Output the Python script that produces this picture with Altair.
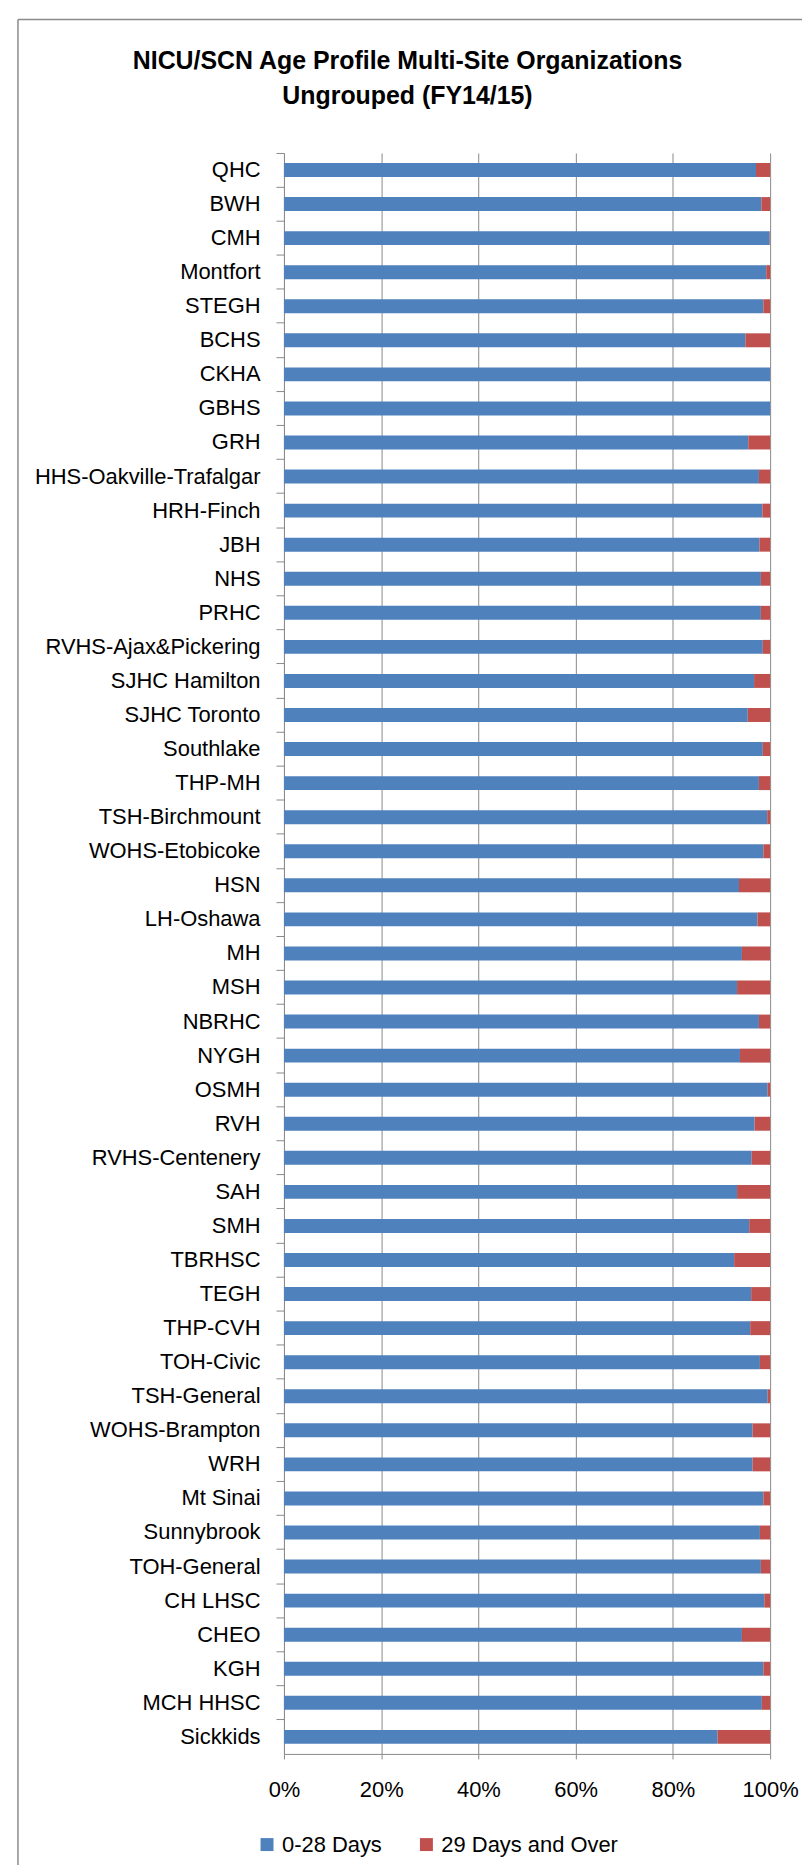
import altair as alt
import pandas as pd

sites = [
    "QHC", "BWH", "CMH", "Montfort", "STEGH", "BCHS", "CKHA", "GBHS", "GRH",
    "HHS-Oakville-Trafalgar", "HRH-Finch", "JBH", "NHS", "PRHC",
    "RVHS-Ajax&Pickering", "SJHC Hamilton", "SJHC Toronto", "Southlake",
    "THP-MH", "TSH-Birchmount", "WOHS-Etobicoke", "HSN", "LH-Oshawa", "MH",
    "MSH", "NBRHC", "NYGH", "OSMH", "RVH", "RVHS-Centenery", "SAH", "SMH",
    "TBRHSC", "TEGH", "THP-CVH", "TOH-Civic", "TSH-General", "WOHS-Brampton",
    "WRH", "Mt Sinai", "Sunnybrook", "TOH-General", "CH LHSC", "CHEO", "KGH",
    "MCH HHSC", "Sickkids",
]
days_0_28 = [
    97.1, 98.2, 99.9, 99.2, 98.6, 94.9, 100.0, 100.0, 95.5,
    97.7, 98.4, 97.8, 98.1, 98.1,
    98.5, 96.7, 95.4, 98.5,
    97.7, 99.4, 98.6, 93.6, 97.4, 94.2,
    93.2, 97.7, 93.8, 99.5, 96.8, 96.2, 93.2, 95.7,
    92.6, 96.1, 95.9, 97.9, 99.5, 96.4,
    96.4, 98.6, 97.9, 98.1, 98.8, 94.2, 98.6,
    98.3, 89.2,
]
days_29_over = [
    2.9, 1.8, 0.1, 0.8, 1.4, 5.1, 0.0, 0.0, 4.5,
    2.3, 1.6, 2.2, 1.9, 1.9,
    1.5, 3.3, 4.6, 1.5,
    2.3, 0.6, 1.4, 6.4, 2.6, 5.8,
    6.8, 2.3, 6.2, 0.5, 3.2, 3.8, 6.8, 4.3,
    7.4, 3.9, 4.1, 2.1, 0.5, 3.6,
    3.6, 1.4, 2.1, 1.9, 1.2, 5.8, 1.4,
    1.7, 10.8,
]
groups = ["0-28 Days", "29 Days and Over"]
colors = ["#4F81BD", "#C0504D"]

rows = []
for s, a, b in zip(sites, days_0_28, days_29_over):
    rows.append({"site": s, "group": groups[0], "pct": a, "ord": 0})
    rows.append({"site": s, "group": groups[1], "pct": b, "ord": 1})
df = pd.DataFrame(rows)

FONT = "Liberation Sans"
GRAY = "#8a8a8a"

bars = alt.Chart(df).mark_bar(size=14).encode(
    y=alt.Y(
        "site:N",
        sort=sites,
        scale=alt.Scale(paddingInner=0, paddingOuter=0),
        axis=alt.Axis(
            title=None, bandPosition=0, tickSize=8, labelPadding=16,
            labelFontSize=22, labelFont=FONT, labelColor="black",
            labelLimit=400, domainColor=GRAY, tickColor=GRAY, grid=False,
        ),
    ),
    x=alt.X(
        "pct:Q",
        stack="normalize",
        scale=alt.Scale(domain=[0, 1], nice=False),
        axis=alt.Axis(
            title=None, format="%", values=[0, 0.2, 0.4, 0.6, 0.8, 1.0],
            tickSize=5, labelPadding=21, labelFontSize=22, labelFont=FONT,
            labelColor="black", domainColor=GRAY, tickColor=GRAY,
            grid=True, gridColor=GRAY, labelFlush=False,
        ),
    ),
    color=alt.Color(
        "group:N",
        scale=alt.Scale(domain=groups, range=colors),
        legend=alt.Legend(
            title=None, orient="none", legendX=-28, legendY=1687,
            direction="horizontal", symbolType="square", symbolSize=169,
            symbolStrokeWidth=0, labelFontSize=22, labelFont=FONT,
            labelColor="black", labelOffset=4, columnPadding=33, padding=0,
            labelLimit=400,
        ),
    ),
    order=alt.Order("ord:Q"),
)

frame_df = pd.DataFrame({"a": [0]})
left_line = alt.Chart(frame_df).mark_rule(color=GRAY, strokeWidth=1.5).encode(
    x=alt.value(-267), y=alt.value(-134), y2=alt.value(1725)
)
top_line = alt.Chart(frame_df).mark_rule(color=GRAY, strokeWidth=1.5).encode(
    x=alt.value(-267), x2=alt.value(560), y=alt.value(-134)
)

chart = alt.layer(bars, left_line, top_line).properties(
    width=488,
    height=1607,
    background="white",
    title=alt.TitleParams(
        text=["NICU/SCN Age Profile Multi-Site Organizations", "Ungrouped (FY14/15)"],
        font=FONT, fontSize=25, fontWeight="bold", color="black",
        anchor="middle", dx=-120, offset=-91, lineHeight=36,
    ),
    autosize=alt.AutoSizeParams(type="none"),
    padding={"left": 277, "top": 142, "right": 32, "bottom": 108},
).configure_view(stroke=None)

chart.save("out.html", embed_options={"renderer": "svg", "actions": False})
